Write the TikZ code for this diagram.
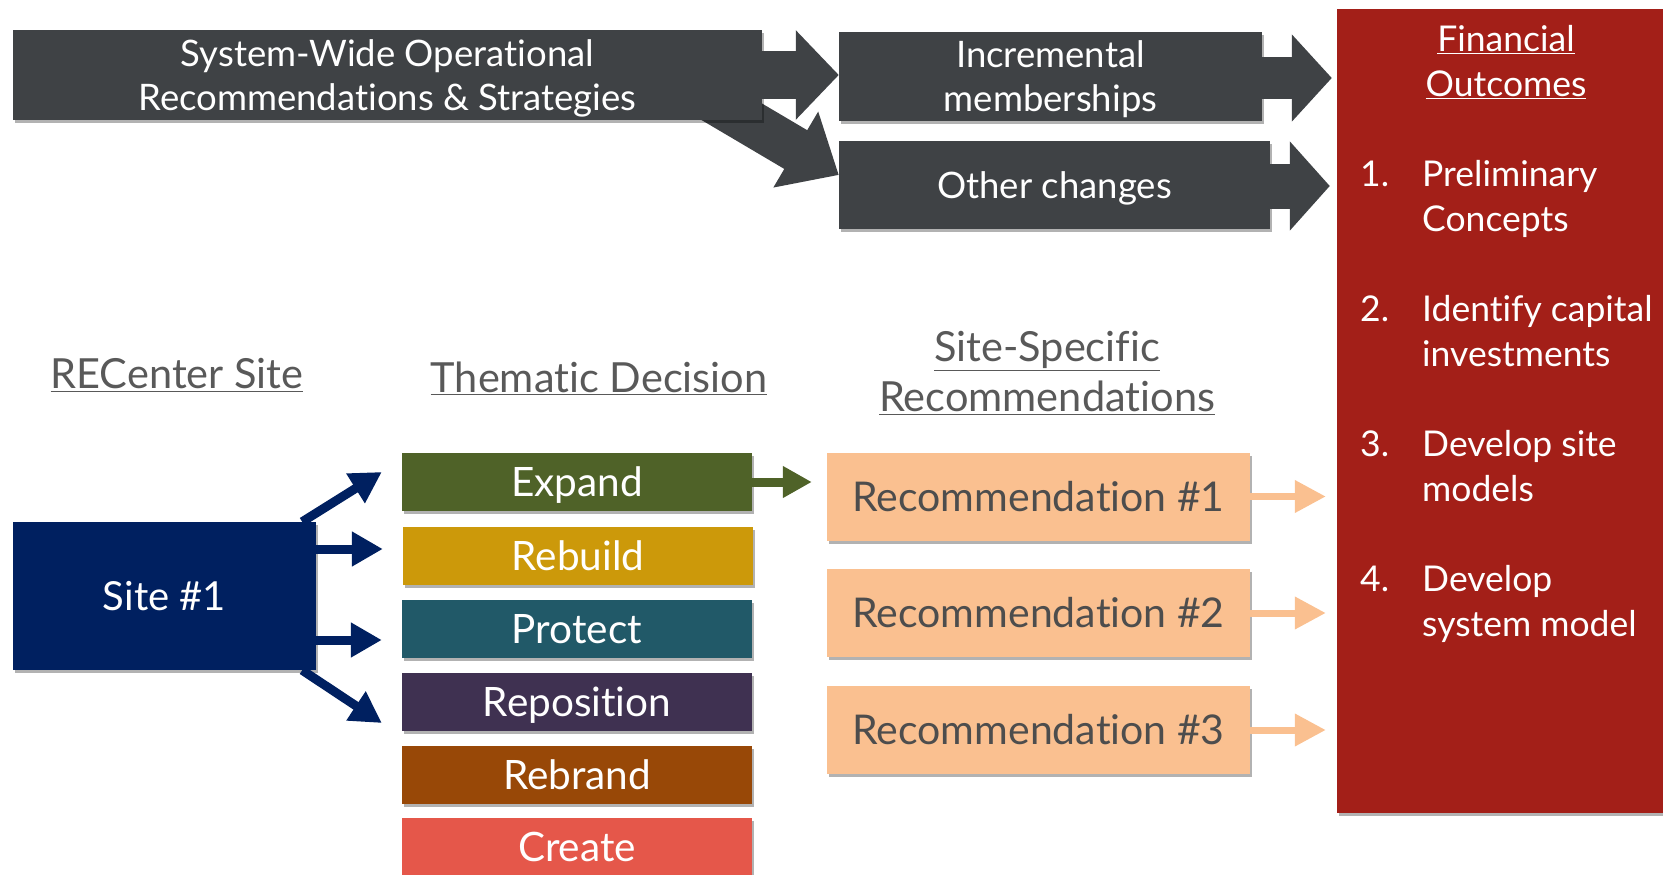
\documentclass[tikz,border=0pt]{standalone}
\usepackage{fontspec}
\setmainfont{Lato}[Ligatures=NoCommon]
\usetikzlibrary{arrows.meta,shadows}
\definecolor{dgray}{HTML}{3F4245}
\definecolor{fred}{HTML}{A31F18}
\definecolor{navy}{HTML}{002060}
\definecolor{peach}{HTML}{FAC090}
\definecolor{olive}{HTML}{4F6228}
\definecolor{mustard}{HTML}{CC990A}
\definecolor{tealc}{HTML}{215968}
\definecolor{plum}{HTML}{3F3151}
\definecolor{rust}{HTML}{984807}
\definecolor{coral}{HTML}{E5574A}
\definecolor{hgray}{HTML}{595959}
\definecolor{rtext}{HTML}{4D4D4D}
\tikzset{
  shad/.style={drop shadow={shadow xshift=2pt,shadow yshift=-3pt,opacity=.3,fill=black}},
  box/.style={inner sep=0pt,text=white,shad,align=center},
  darkbox/.style={box,fill=dgray,text depth=0pt,font=\fontsize{36.5}{44}\selectfont},
  thbox/.style={box,minimum width=350pt,minimum height=58pt,text height=29pt,text depth=0pt,font=\fontsize{40.5}{48}\selectfont},
  recbox/.style={box,fill=peach,text=rtext,minimum width=423pt,minimum height=88pt,text height=29.5pt,text depth=0pt,font=\fontsize{41}{49}\selectfont},
  header/.style={text=hgray,align=center,font=\fontsize{41.5}{50}\selectfont},
  blkarrow/.style={draw=dgray},
  barrow/.style={draw=navy,line width=9pt,-{Triangle[length=31pt,width=33pt]}},
  garrow/.style={draw=olive,line width=9pt,-{Triangle[length=29pt,width=30pt]}},
  parrow/.style={draw=peach,line width=7pt,-{Triangle[length=31pt,width=31pt]}},
  fitem/.style={text=white,anchor=west,inner sep=0pt,font=\fontsize{35.5}{45}\selectfont},
}
\begin{document}
\begin{tikzpicture}[x=1pt,y=-1pt]
\useasboundingbox (0,0) rectangle (1663,875);
% top dark boxes
\node[darkbox,minimum width=423pt,minimum height=89pt] (inc) at (1050.5,76.5) {Incremental\\memberships};
\node[darkbox,minimum width=431pt,minimum height=88pt,text height=26pt] (oth) at (1054.5,185) {Other changes};
\coordinate (d0) at (700,93);
\draw[blkarrow,line width=45pt,-{Triangle[length=50pt,width=85pt]}] (d0) -- ([yshift=10pt]oth.west);
\node[darkbox,minimum width=749pt,minimum height=90pt] (sys) at (387.5,75) {System-Wide Operational\\Recommendations \& Strategies};
% financial box
\node[box,fill=fred,minimum width=343pt,minimum height=804pt] (fin) at (1508.5,411) {};
% block arrows
\draw[blkarrow,line width=47pt,-{Triangle[length=43pt,width=87pt]}] (sys.east) -- (sys.east -| inc.west);
\draw[blkarrow,line width=42pt,-{Triangle[length=40pt,width=85pt]},shorten >=5pt] ([yshift=-1.5pt]inc.east) -- ([yshift=-1.5pt]inc.east -| fin.west);
\draw[blkarrow,line width=45pt,-{Triangle[length=40pt,width=87pt]},shorten >=7pt] ([yshift=-1pt]oth.east) -- ([yshift=-1pt]oth.east -| fin.west);
% financial text
\node[text=white,align=center,inner sep=0pt,font=\fontsize{35.5}{45}\selectfont] (fint) at (1506,62) {\underline{Financial}\\\underline{Outcomes}};
\node[fitem] (f1) at (1360,200) {\begin{tabular}{@{}p{62pt}@{}l@{}}1.&Preliminary\\&Concepts\end{tabular}};
\node[fitem] (f2) at (1360,335) {\begin{tabular}{@{}p{62pt}@{}l@{}}2.&Identify capital\\&investments\end{tabular}};
\node[fitem] (f3) at (1360,470) {\begin{tabular}{@{}p{62pt}@{}l@{}}3.&Develop site\\&models\end{tabular}};
\node[fitem] (f4) at (1360,605) {\begin{tabular}{@{}p{62pt}@{}l@{}}4.&Develop\\&system model\end{tabular}};
% headers
\node[header] (h1) at (177,375) {\underline{RECenter Site}};
\node[header] (h2) at (599,378) {\underline{Thematic Decision}};
\node[header] (h3) at (1047,373) {\underline{Site-Specific}\\\underline{Recommendations}};
% site
\node[box,fill=navy,minimum width=303pt,minimum height=148pt,text height=29pt,text depth=0pt,font=\fontsize{40}{48}\selectfont] (site) at (164.5,596) {Site \#1};
% thematic
\node[thbox,fill=olive] (expand) at (577,482) {Expand};
\node[thbox,fill=mustard] (rebuild) at (578,556) {Rebuild};
\node[thbox,fill=tealc] (protect) at (577,629) {Protect};
\node[thbox,fill=plum] (reposition) at (577,702) {Reposition};
\node[thbox,fill=rust] (rebrand) at (577,775) {Rebrand};
\node[thbox,fill=coral] (create) at (577,847) {Create};
% recommendations
\node[recbox] (rec1) at (1038.5,496.5) {Recommendation \#1};
\node[recbox] (rec2) at (1038.5,613) {Recommendation \#2};
\node[recbox] (rec3) at (1038.5,730) {Recommendation \#3};
% site arrows
\draw[barrow] ([xshift=-14pt]site.north east) -- ([xshift=-20pt,yshift=10pt]expand.west);
\draw[barrow] ([yshift=47pt]site.east) -- ([xshift=-20pt,yshift=7pt]rebuild.west);
\draw[barrow] ([yshift=-44pt]site.east) -- ([xshift=-20pt,yshift=-11pt]protect.west);
\draw[barrow] ([xshift=-14pt]site.south east) -- ([xshift=-20pt,yshift=-21pt]reposition.west);
\draw[garrow,shorten >=15pt] (expand.east) -- (expand.east -| rec1.west);
\draw[parrow,shorten >=11pt] (rec1.east) -- (rec1.east -| fin.west);
\draw[parrow,shorten >=11pt] (rec2.east) -- (rec2.east -| fin.west);
\draw[parrow,shorten >=11pt] (rec3.east) -- (rec3.east -| fin.west);
\end{tikzpicture}
\end{document}
